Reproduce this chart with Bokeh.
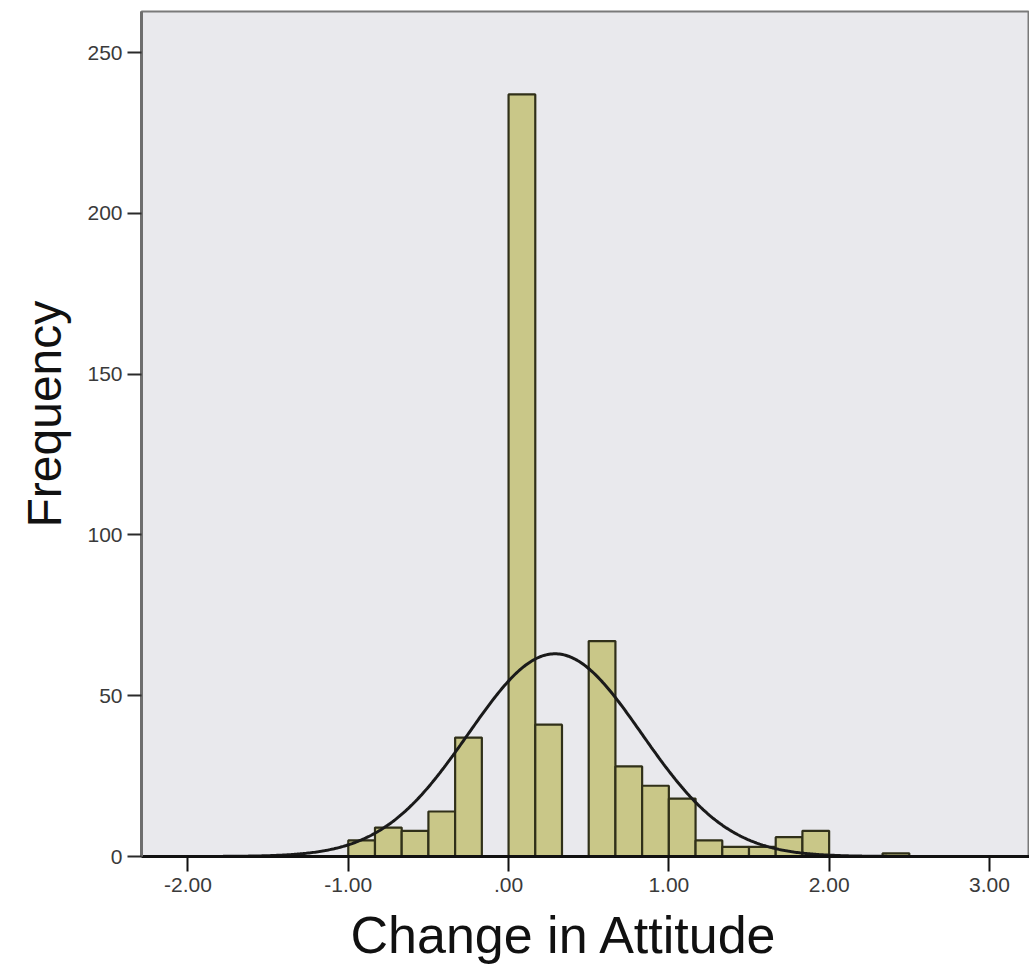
from bokeh.plotting import figure
from bokeh.models import ColumnDataSource, FixedTicker, Range1d, Title
from bokeh.embed import file_html
from bokeh.resources import INLINE
import numpy as np

# Histogram of attitude change: bins of width 1/6 starting at -1.00
bin_start = -1.0
bin_width = 1.0 / 6.0
counts = [5, 9, 8, 14, 37, 0, 237, 41, 0, 67, 28, 22, 18, 5, 3, 3, 6, 8, 0, 0, 1]

# Normal curve parameters (sample statistics)
curve_mean = 0.29
curve_sd = 0.54

x_ticks = [-2, -1, 0, 1, 2, 3]
x_tick_labels = ["-2.00", "-1.00", ".00", "1.00", "2.00", "3.00"]
y_ticks = [0, 50, 100, 150, 200, 250]

n_total = sum(counts)
lefts = [bin_start + i * bin_width for i in range(len(counts))]
bars = ColumnDataSource(dict(
    left=[l for l, c in zip(lefts, counts) if c > 0],
    right=[l + bin_width for l, c in zip(lefts, counts) if c > 0],
    top=[c for c in counts if c > 0],
))

x_lo, x_hi = -2.29, 3.25
xs = np.linspace(x_lo, x_hi, 600)
ys = n_total * bin_width / (curve_sd * np.sqrt(2 * np.pi)) * np.exp(-0.5 * ((xs - curve_mean) / curve_sd) ** 2)

FONT = "Liberation Sans"

p = figure(width=1029, height=974, output_backend="svg", toolbar_location=None,
           x_range=Range1d(x_lo, x_hi), y_range=Range1d(0, 262.8),
           min_border_left=141, min_border_right=0, min_border_top=11, min_border_bottom=118)

p.background_fill_color = "#E9E9ED"
p.border_fill_color = "white"
p.outline_line_color = "#7a7a7a"
p.outline_line_width = 2
p.grid.visible = False

p.quad(left="left", right="right", bottom=0, top="top", source=bars,
       fill_color="#C9C788", line_color="#303019", line_width=2.2)
p.line(xs, ys, line_color="#1a1a1a", line_width=3)

# x axis
xa = p.xaxis[0]
xa.ticker = FixedTicker(ticks=x_ticks)
xa.major_label_overrides = {t: s for t, s in zip(x_ticks, x_tick_labels)}
xa.major_label_text_font = FONT
xa.major_label_text_font_size = "21px"
xa.major_label_text_color = "#3a3a3a"
xa.major_label_standoff = 6
xa.axis_line_color = "#111111"
xa.axis_line_width = 3
xa.major_tick_line_color = "#111111"
xa.major_tick_line_width = 2
xa.major_tick_out = 15
xa.major_tick_in = 0
xa.minor_tick_line_color = None

# y axis
ya = p.yaxis[0]
ya.ticker = FixedTicker(ticks=y_ticks)
ya.major_label_text_font = FONT
ya.major_label_text_font_size = "21px"
ya.major_label_text_color = "#3a3a3a"
ya.major_label_standoff = 5
ya.axis_line_color = "#6e6e6e"
ya.axis_line_width = 3
ya.major_tick_line_color = "#2a2a2a"
ya.major_tick_line_width = 2
ya.major_tick_out = 14
ya.major_tick_in = 0
ya.minor_tick_line_color = None

# Axis titles
p.add_layout(Title(text="Change in Attitude", align="left", offset=209, standoff=18,
                   text_font=FONT, text_font_size="52px", text_font_style="normal",
                   text_color="#111111"), "below")
p.add_layout(Title(text="Frequency", align="left", offset=329, standoff=28,
                   text_font=FONT, text_font_size="48px", text_font_style="normal",
                   text_color="#111111"), "left")

open("out.html", "w").write(file_html(p, INLINE))
